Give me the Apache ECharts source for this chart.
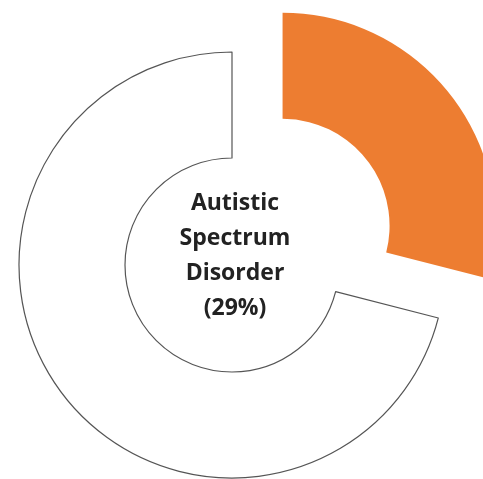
<!DOCTYPE html>
<html><head><meta charset="utf-8">
<script src="https://cdn.jsdelivr.net/npm/echarts@6/dist/echarts.min.js"></script>
<style>html,body{margin:0;padding:0;background:#fff}#c{width:483px;height:479px}</style>
</head><body><div id="c"></div>
<script>
const categories = ["Autistic Spectrum Disorder", "Other"];
const values = [29, 71];
const centerLabel = "Autistic\nSpectrum\nDisorder\n(29%)";

const chart = echarts.init(document.getElementById('c'));
chart.setOption({
  animation: false,
  backgroundColor: '#ffffff',
  series: [{
    type: 'pie',
    center: [232, 265],
    radius: [107, 213],
    startAngle: 90,
    clockwise: true,
    selectedMode: 'single',
    selectedOffset: 64,
    label: { show: false },
    labelLine: { show: false },
    emphasis: { disabled: true },
    data: [
      { name: categories[0], value: values[0], selected: true,
        itemStyle: { color: '#ED7D31', borderWidth: 0 } },
      { name: categories[1], value: values[1],
        itemStyle: { color: '#ffffff', borderColor: '#555555', borderWidth: 1.2 } }
    ]
  }],
  graphic: [{
    type: 'text',
    x: 235, y: 256,
    style: {
      text: centerLabel,
      fill: '#222222',
      font: 'bold 23px "Open Sans", sans-serif',
      lineHeight: 35,
      align: 'center',
      verticalAlign: 'middle'
    }
  }]
});
</script></body></html>
